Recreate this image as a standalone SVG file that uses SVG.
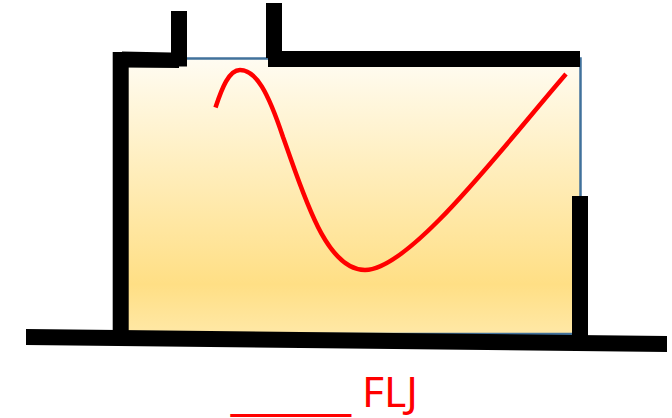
<svg xmlns="http://www.w3.org/2000/svg" width="672" height="418" viewBox="0 0 672 418">
<style>
.wall{fill:#000}
.lbl{font-family:"Noto Sans","Open Sans",sans-serif;font-size:41px;fill:#f00}
.rule{font-family:"Liberation Sans",Arial,sans-serif;font-size:48px;fill:#f00}
</style>
<defs>
<linearGradient id="fillGrad" x1="0" y1="0" x2="0" y2="1">
<stop offset="0" stop-color="#FFFCF2"/>
<stop offset="0.82" stop-color="#FFDF85"/>
<stop offset="1" stop-color="#FFE8A6"/>
</linearGradient>
</defs>
<rect id="tank" x="121" y="58.500" width="459.500" height="275.500" fill="url(#fillGrad)" stroke="#41719C" stroke-width="2.500"/>
<g id="walls">
<rect class="wall" x="112.700" y="52" width="16" height="284"/>
<polygon class="wall" points="122,51.500 171,52.500 171,11 187,11 187,66.500 179,66.500 179,68 122,67.500"/>
<polygon class="wall" points="266,3 282,3 282,51 580,51 580,67 268,67 268,58 266,58"/>
<rect class="wall" x="572" y="196" width="16" height="144"/>
<polygon class="wall" points="26,329 667,336 667,352 26,345"/>
</g>
<g id="connectors">
<path d="M215.500,107.500 C222,88 229,70 240,70 C256,70 268,92 283,137 C303,192 325,270 365,270 C410,270 502,148 566,74" fill="none" stroke="#f00" stroke-width="4.500"/>
</g>
<g id="label">
<text class="rule" x="231" y="407" textLength="120" lengthAdjust="spacingAndGlyphs">_____</text>
<text class="lbl" x="362" y="407" textLength="56" lengthAdjust="spacingAndGlyphs">FLJ</text>
</g>
</svg>
